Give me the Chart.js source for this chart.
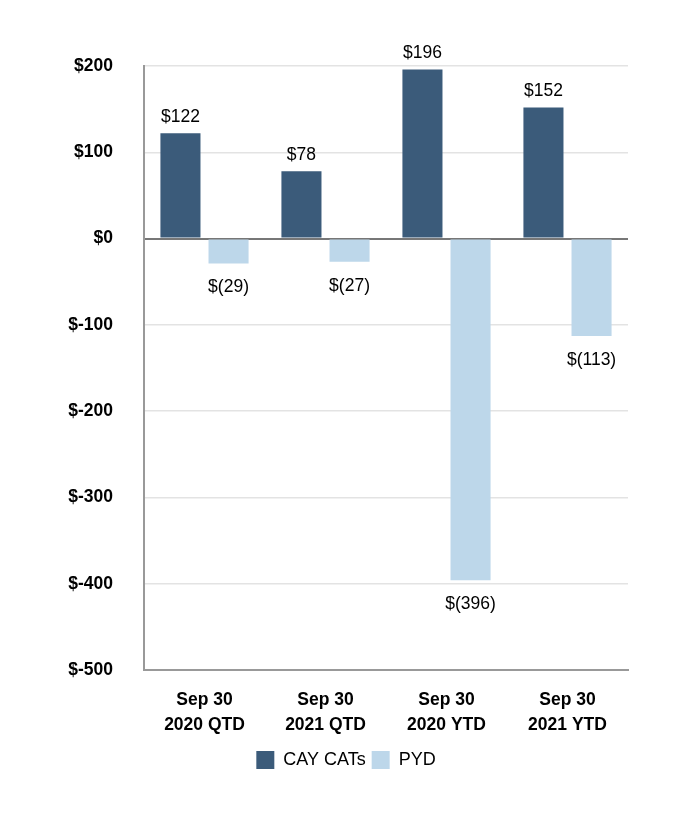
<!DOCTYPE html>
<html>
<head>
<meta charset="utf-8">
<script src="https://cdn.jsdelivr.net/npm/chart.js@4.4.0/dist/chart.umd.min.js"></script>
<style>
  html, body { margin: 0; padding: 0; background: #fff; }
  #wrap { width: 692px; height: 826px; }
</style>
</head>
<body>
<div id="wrap"><canvas id="myChart"></canvas></div>
<script>
const categories = [["Sep 30", "2020 QTD"], ["Sep 30", "2021 QTD"], ["Sep 30", "2020 YTD"], ["Sep 30", "2021 YTD"]];
const cayCats = [122, 78, 196, 152];
const pyd = [-29, -27, -396, -113];

function money(v) {
  return v < 0 ? "$(" + Math.abs(v) + ")" : "$" + v;
}

// value labels above / below each bar
const barLabels = {
  id: "barLabels",
  afterDatasetsDraw(chart) {
    const ctx = chart.ctx;
    ctx.save();
    ctx.font = "17.5px 'Liberation Sans', Arial, sans-serif";
    ctx.fillStyle = "#000";
    ctx.textAlign = "center";
    ctx.textBaseline = "middle";
    chart.data.datasets.forEach((ds, i) => {
      chart.getDatasetMeta(i).data.forEach((bar, j) => {
        const v = ds.data[j];
        const y = v >= 0 ? bar.y - 16 : bar.y + 24;
        ctx.fillText(money(v), bar.x, y);
      });
    });
    ctx.restore();
  }
};

Chart.defaults.font.family = "'Liberation Sans', Arial, sans-serif";
Chart.defaults.color = "#000";

const ctx = document.getElementById("myChart").getContext("2d");
const myChart = new Chart(ctx, {
  type: "bar",
  data: {
    labels: categories,
    datasets: [
      { label: "CAY CATs", data: cayCats, backgroundColor: "#3b5b7a" },
      { label: "PYD", data: pyd, backgroundColor: "#bdd7ea" }
    ]
  },
  options: {
    responsive: true,
    maintainAspectRatio: false,
    animation: false,
    categoryPercentage: 0.795,
    barPercentage: 0.833,
    layout: { padding: { top: 66, right: 64, bottom: 47, left: 64 } },
    plugins: {
      legend: {
        position: "bottom",
        labels: { boxWidth: 18, boxHeight: 18, padding: 6, font: { size: 18 }, color: "#000" }
      },
      tooltip: { enabled: false }
    },
    scales: {
      x: {
        grid: { display: false },
        border: { color: "#999", width: 2 },
        ticks: { font: { size: 17.5, weight: "bold", lineHeight: 1.4 }, padding: 10, maxRotation: 0 },
        afterFit(scale) { scale.height = 75; }
      },
      y: {
        min: -500,
        max: 200,
        ticks: {
          stepSize: 100,
          padding: 31,
          font: { size: 17.5, weight: "bold" },
          callback: (v) => "$" + v
        },
        grid: {
          drawTicks: false,
          color: (c) => c.tick && c.tick.value === 0 ? "#777" : "#e3e3e3",
          lineWidth: (c) => c.tick && c.tick.value === 0 ? 2 : 1.5
        },
        border: { color: "#999", width: 2 },
        afterFit(scale) { scale.width = 80; }
      }
    }
  },
  plugins: [barLabels]
});
</script>
</body>
</html>
